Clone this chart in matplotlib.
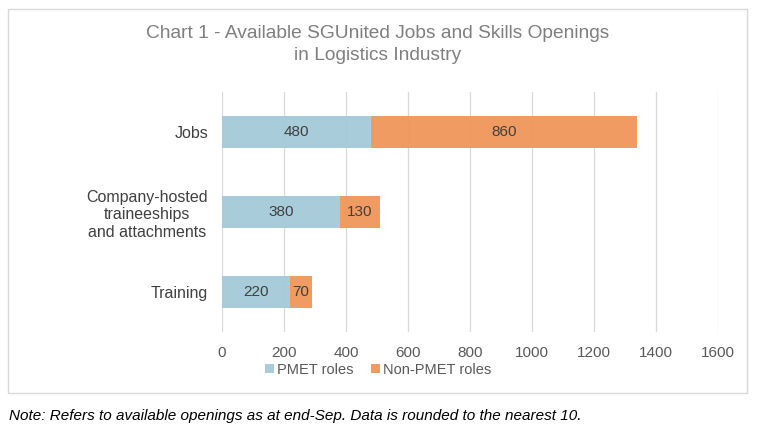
import matplotlib
matplotlib.use("Agg")
import matplotlib.pyplot as plt
from matplotlib.patches import Rectangle

categories = ["Jobs", "Company-hosted\ntraineeships\nand attachments", "Training"]
pmet = [480, 380, 220]
non_pmet = [860, 130, 70]
xticks = [0, 200, 400, 600, 800, 1000, 1200, 1400, 1600]
series_names = ["PMET roles", "Non-PMET roles"]

plt.rcParams['font.family'] = ['Liberation Sans', 'DejaVu Sans']

W, H = 759, 436
fig = plt.figure(figsize=(W / 100, H / 100), dpi=100)
fig.patch.set_facecolor("white")

# outer chart border
fig.add_artist(Rectangle((8 / W, 1 - 393 / H), (747 - 8) / W, (393 - 9) / H,
                         transform=fig.transFigure, fill=False,
                         edgecolor="#d9d9d9", linewidth=1))

ax = fig.add_axes([222 / W, 1 - 332 / H, (718 - 222) / W, (332 - 92) / H])

c_pmet = "#a5cbd8"
c_non = "#f0965a"
ypos = list(range(len(categories)))
ax.barh(ypos, pmet, height=0.4, color=c_pmet, label=series_names[0], zorder=2, alpha=0.97)
ax.barh(ypos, non_pmet, left=pmet, height=0.4, color=c_non, label=series_names[1], zorder=2, alpha=0.95)

for i in ypos:
    ax.text(pmet[i] / 2, i, str(pmet[i]), ha="center", va="center",
            fontsize=11, color="#404040", zorder=3)
    ax.text(pmet[i] + non_pmet[i] / 2, i, str(non_pmet[i]), ha="center", va="center",
            fontsize=11, color="#404040", zorder=3)

ax.set_xlim(0, 1600)
ax.set_ylim(2.5, -0.5)
ax.set_xticks(xticks)
ax.set_xticklabels([str(v) for v in xticks])
ax.set_yticks(ypos)
ax.set_yticklabels(categories, linespacing=1.2)
ax.tick_params(axis="x", length=0, pad=10, labelsize=11, labelcolor="#595959")
ax.tick_params(axis="y", length=0, pad=10, labelsize=11.5, labelcolor="#404040")
for lbl in ax.get_yticklabels():
    lbl.set_horizontalalignment("right")
    lbl.set_multialignment("center")
ax.grid(axis="x", color="#d9d9d9", linewidth=0.9, zorder=0)
ax.set_axisbelow(True)
for s in ax.spines.values():
    s.set_visible(False)

fig.text(378 / W, 1 - 33 / H, "Chart 1 - Available SGUnited Jobs and Skills Openings",
         ha="center", va="center", fontsize=13.8, color="#7f7f7f")
fig.text(378 / W, 1 - 56 / H, "in Logistics Industry",
         ha="center", va="center", fontsize=13.8, color="#7f7f7f")

leg = fig.legend(loc="center", bbox_to_anchor=(378 / W, 1 - 370 / H), ncol=2,
                 frameon=False, fontsize=10.5, handlelength=0.6, handleheight=0.6,
                 handletextpad=0.2, columnspacing=1.2, labelcolor="#595959")

fig.text(9 / W, 1 - 416 / H,
         "Note: Refers to available openings as at end-Sep. Data is rounded to the nearest 10.",
         ha="left", va="center", fontsize=11, style="italic", color="black")

fig.savefig("out.png", dpi=100)
